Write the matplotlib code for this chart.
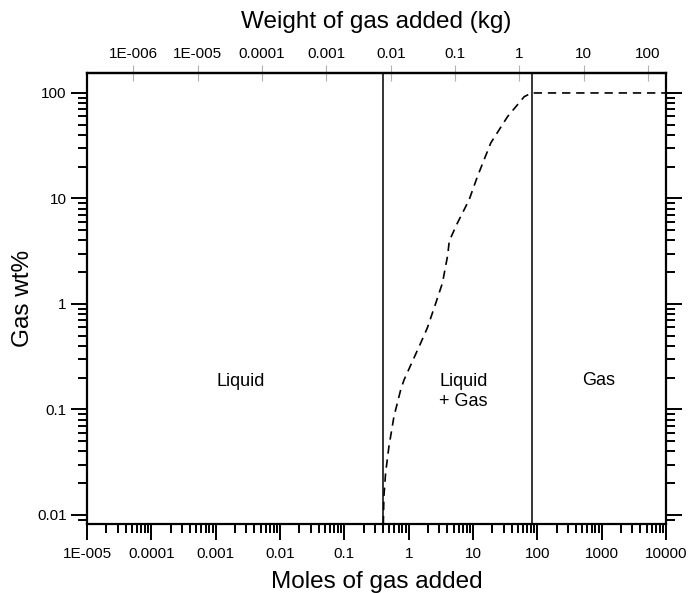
import matplotlib
matplotlib.use("Agg")
import matplotlib.pyplot as plt
from matplotlib.ticker import FixedLocator, LogLocator, NullFormatter, FixedFormatter
import numpy as np

plt.rcParams["font.family"] = ["Liberation Sans", "DejaVu Sans"]

# Gas content along the addition path (moles added vs. gas wt%)
moles_added = [0.40, 0.404, 0.412, 0.438, 0.493, 0.590, 0.75, 0.845, 1.54, 1.95,
               2.64, 3.35, 4.0, 4.1, 4.28, 5.74, 8.7, 11.7, 18.9, 34.4, 62.5, 81.5, 10000]
gas_wt_pct = [0.006, 0.0083, 0.0149, 0.025, 0.0444, 0.0855, 0.153, 0.19, 0.427, 0.593,
              1.02, 1.58, 2.8, 3.13, 3.96, 5.87, 9.7, 16.1, 33.6, 59.6, 92.2, 100, 100]

# Phase boundaries (moles of gas added)
bubble_point = 0.40
dew_point = 81.5

# Molar mass used for the weight axis (kg per mole)
kg_per_mole = 0.019

bottom_ticks = [1e-5, 1e-4, 1e-3, 1e-2, 1e-1, 1, 10, 100, 1000, 10000]
bottom_labels = ["1E-005", "0.0001", "0.001", "0.01", "0.1", "1", "10", "100", "1000", "10000"]
top_ticks = [1e-6, 1e-5, 1e-4, 1e-3, 1e-2, 1e-1, 1, 10, 100]
top_labels = ["1E-006", "1E-005", "0.0001", "0.001", "0.01", "0.1", "1", "10", "100"]
y_ticks = [0.01, 0.1, 1, 10, 100]
y_labels = ["0.01", "0.1", "1", "10", "100"]

region_labels = ["Liquid", "Liquid\n+ Gas", "Gas"]
region_x = [0.00248, 3.0, 885]
region_y = [0.186, 0.148, 0.19]

fig = plt.figure(figsize=(6.9, 5.93), dpi=100)
ax = fig.add_axes([0.1261, 0.1164, 0.8391, 0.7605])

ax.set_xscale("log")
ax.set_yscale("log")
ax.set_xlim(1e-5, 1e4)
ax.set_ylim(0.00822, 154.6)

ax.plot(moles_added, gas_wt_pct, color="black", lw=1.2, linestyle=(0, (5, 3.5)))
ax.axvline(bubble_point, color="black", lw=1.1)
ax.axvline(dew_point, color="black", lw=1.1)

ax.text(region_x[0], region_y[0], region_labels[0], ha="center", va="center", fontsize=13)
ax.text(region_x[1], region_y[1], region_labels[1], ha="left", va="center", fontsize=13,
        linespacing=1.25)
ax.text(region_x[2], region_y[2], region_labels[2], ha="center", va="center", fontsize=13)

for s in ax.spines.values():
    s.set_linewidth(1.6)

ax.xaxis.set_major_locator(FixedLocator(bottom_ticks))
ax.xaxis.set_major_formatter(FixedFormatter(bottom_labels))
ax.xaxis.set_minor_locator(LogLocator(base=10, subs=np.arange(2, 10), numticks=20))
ax.xaxis.set_minor_formatter(NullFormatter())
ax.yaxis.set_major_locator(FixedLocator(y_ticks))
ax.yaxis.set_major_formatter(FixedFormatter(y_labels))
ax.yaxis.set_minor_locator(LogLocator(base=10, subs=np.arange(2, 10), numticks=20))
ax.yaxis.set_minor_formatter(NullFormatter())

ax.tick_params(axis="both", which="major", direction="out", length=11.5, width=1.4,
               labelsize=11, pad=5)
ax.tick_params(axis="both", which="minor", direction="out", length=6.5, width=1.4)
ax.tick_params(axis="y", which="both", left=True, right=True)
ax.tick_params(axis="x", which="both", top=False, bottom=True)
ax.tick_params(axis="y", which="major", pad=3)

ax.set_xlabel("Moles of gas added", fontsize=17.5, labelpad=7)
ax.set_ylabel("Gas wt%", fontsize=17.5, labelpad=2)

top = ax.secondary_xaxis("top", functions=(lambda m: m * kg_per_mole,
                                           lambda w: w / kg_per_mole))
top.xaxis.set_major_locator(FixedLocator(top_ticks))
top.xaxis.set_major_formatter(FixedFormatter(top_labels))
top.xaxis.set_minor_locator(FixedLocator([]))
top.tick_params(axis="x", which="major", direction="inout", length=11, width=0.8,
                color="#b0b0b0", labelsize=11, pad=3)
top.spines["top"].set_linewidth(1.6)
top.set_xlabel("Weight of gas added (kg)", fontsize=17.5, labelpad=14)

fig.savefig("out.png", dpi=100, facecolor="white")
